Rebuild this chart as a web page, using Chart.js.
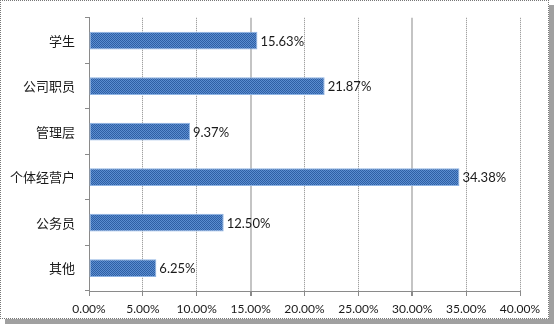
<!DOCTYPE html>
<html>
<head>
<meta charset="utf-8">
<script src="https://cdn.jsdelivr.net/npm/chart.js@4/dist/chart.umd.min.js"></script>
<style>
  html, body { margin: 0; padding: 0; background: #fff; }
  #wrap { position: relative; width: 555px; height: 325px; }
  #frame {
    position: absolute; left: 0; top: 0; width: 547px; height: 317px;
    border: 1px dotted #777; box-shadow: 5px 5px 0 #a0a0a0; background: #fff;
  }
  #myChart { position: absolute; left: 0; top: 0; }
</style>
</head>
<body>
<div id="wrap">
  <div id="frame"></div>
  <canvas id="myChart" width="555" height="325"></canvas>
</div>
<script>
const categories = ["学生", "公司职员", "管理层", "个体经营户", "公务员", "其他"];
const shares = [15.63, 21.87, 9.37, 34.38, 12.50, 6.25];
const xTicks = [0, 5, 10, 15, 20, 25, 30, 35, 40];

// checkered blue fill like the original
function makePattern() {
    const c = document.createElement('canvas');
    c.width = 2; c.height = 2;
    const g = c.getContext('2d');
    g.fillStyle = '#5a8dd0';
    g.fillRect(0, 0, 2, 2);
    g.fillStyle = '#2f5fa4';
    g.fillRect(0, 0, 1, 1);
    g.fillRect(1, 1, 1, 1);
    return g.createPattern(c, 'repeat');
}

const valueLabels = {
    id: 'valueLabels',
    afterDatasetsDraw(chart) {
        const ctx = chart.ctx;
        const meta = chart.getDatasetMeta(0);
        ctx.save();
        ctx.font = '13px "Lato", "Liberation Sans", sans-serif';
        ctx.fillStyle = '#1a1a1a';
        ctx.textAlign = 'left';
        ctx.textBaseline = 'middle';
        meta.data.forEach((bar, i) => {
            ctx.fillText(shares[i].toFixed(2) + '%', bar.x + 3, bar.y + 1);
        });
        ctx.restore();
    }
};

document.addEventListener('DOMContentLoaded', function () {
    const ctx = document.getElementById('myChart');

    new Chart(ctx, {
        type: 'bar',
        data: {
            labels: categories,
            datasets: [{
                data: shares,
                backgroundColor: makePattern(),
                borderColor: '#8fb4e3',
                borderWidth: 1,
                borderSkipped: false,
                barPercentage: 0.78,
                categoryPercentage: 0.5
            }]
        },
        options: {
            indexAxis: 'y',
            responsive: false,
            animation: false,
            layout: { padding: { top: 14, right: 35, bottom: 0, left: 0 } },
            plugins: {
                legend: { display: false },
                tooltip: { enabled: false }
            },
            scales: {
                x: {
                    min: 0,
                    max: 40,
                    afterBuildTicks: axis => { axis.ticks = xTicks.map(v => ({ value: v })); },
                    afterFit: axis => { axis.height = 34; },
                    ticks: {
                        color: '#1a1a1a',
                        padding: 6,
                        font: { family: '"Lato", "Liberation Sans", sans-serif', size: 12 },
                        callback: v => v.toFixed(2) + '%'
                    },
                    grid: {
                        color: c => (c.tick && (c.tick.value === 15 || c.tick.value === 30)) ? '#c4c4c4' : '#8a8a8a',
                        lineWidth: c => (c.tick && (c.tick.value === 15 || c.tick.value === 30)) ? 2 : 1,
                        tickLength: 5,
                        tickColor: '#8a8a8a'
                    },
                    border: {
                        color: '#8a8a8a',
                        dash: c => (c.tick && (c.tick.value === 15 || c.tick.value === 30)) ? [] : [1, 1]
                    }
                },
                y: {
                    afterFit: axis => { axis.width = 89; },
                    ticks: {
                        color: '#1a1a1a',
                        padding: 10,
                        font: { family: '"Noto Sans CJK SC", sans-serif', size: 13 }
                    },
                    grid: {
                        drawOnChartArea: false,
                        tickLength: 4,
                        color: '#8a8a8a'
                    },
                    border: { color: '#8a8a8a', dash: [1, 1] }
                }
            }
        },
        plugins: [valueLabels]
    });
});
</script>
</body>
</html>
